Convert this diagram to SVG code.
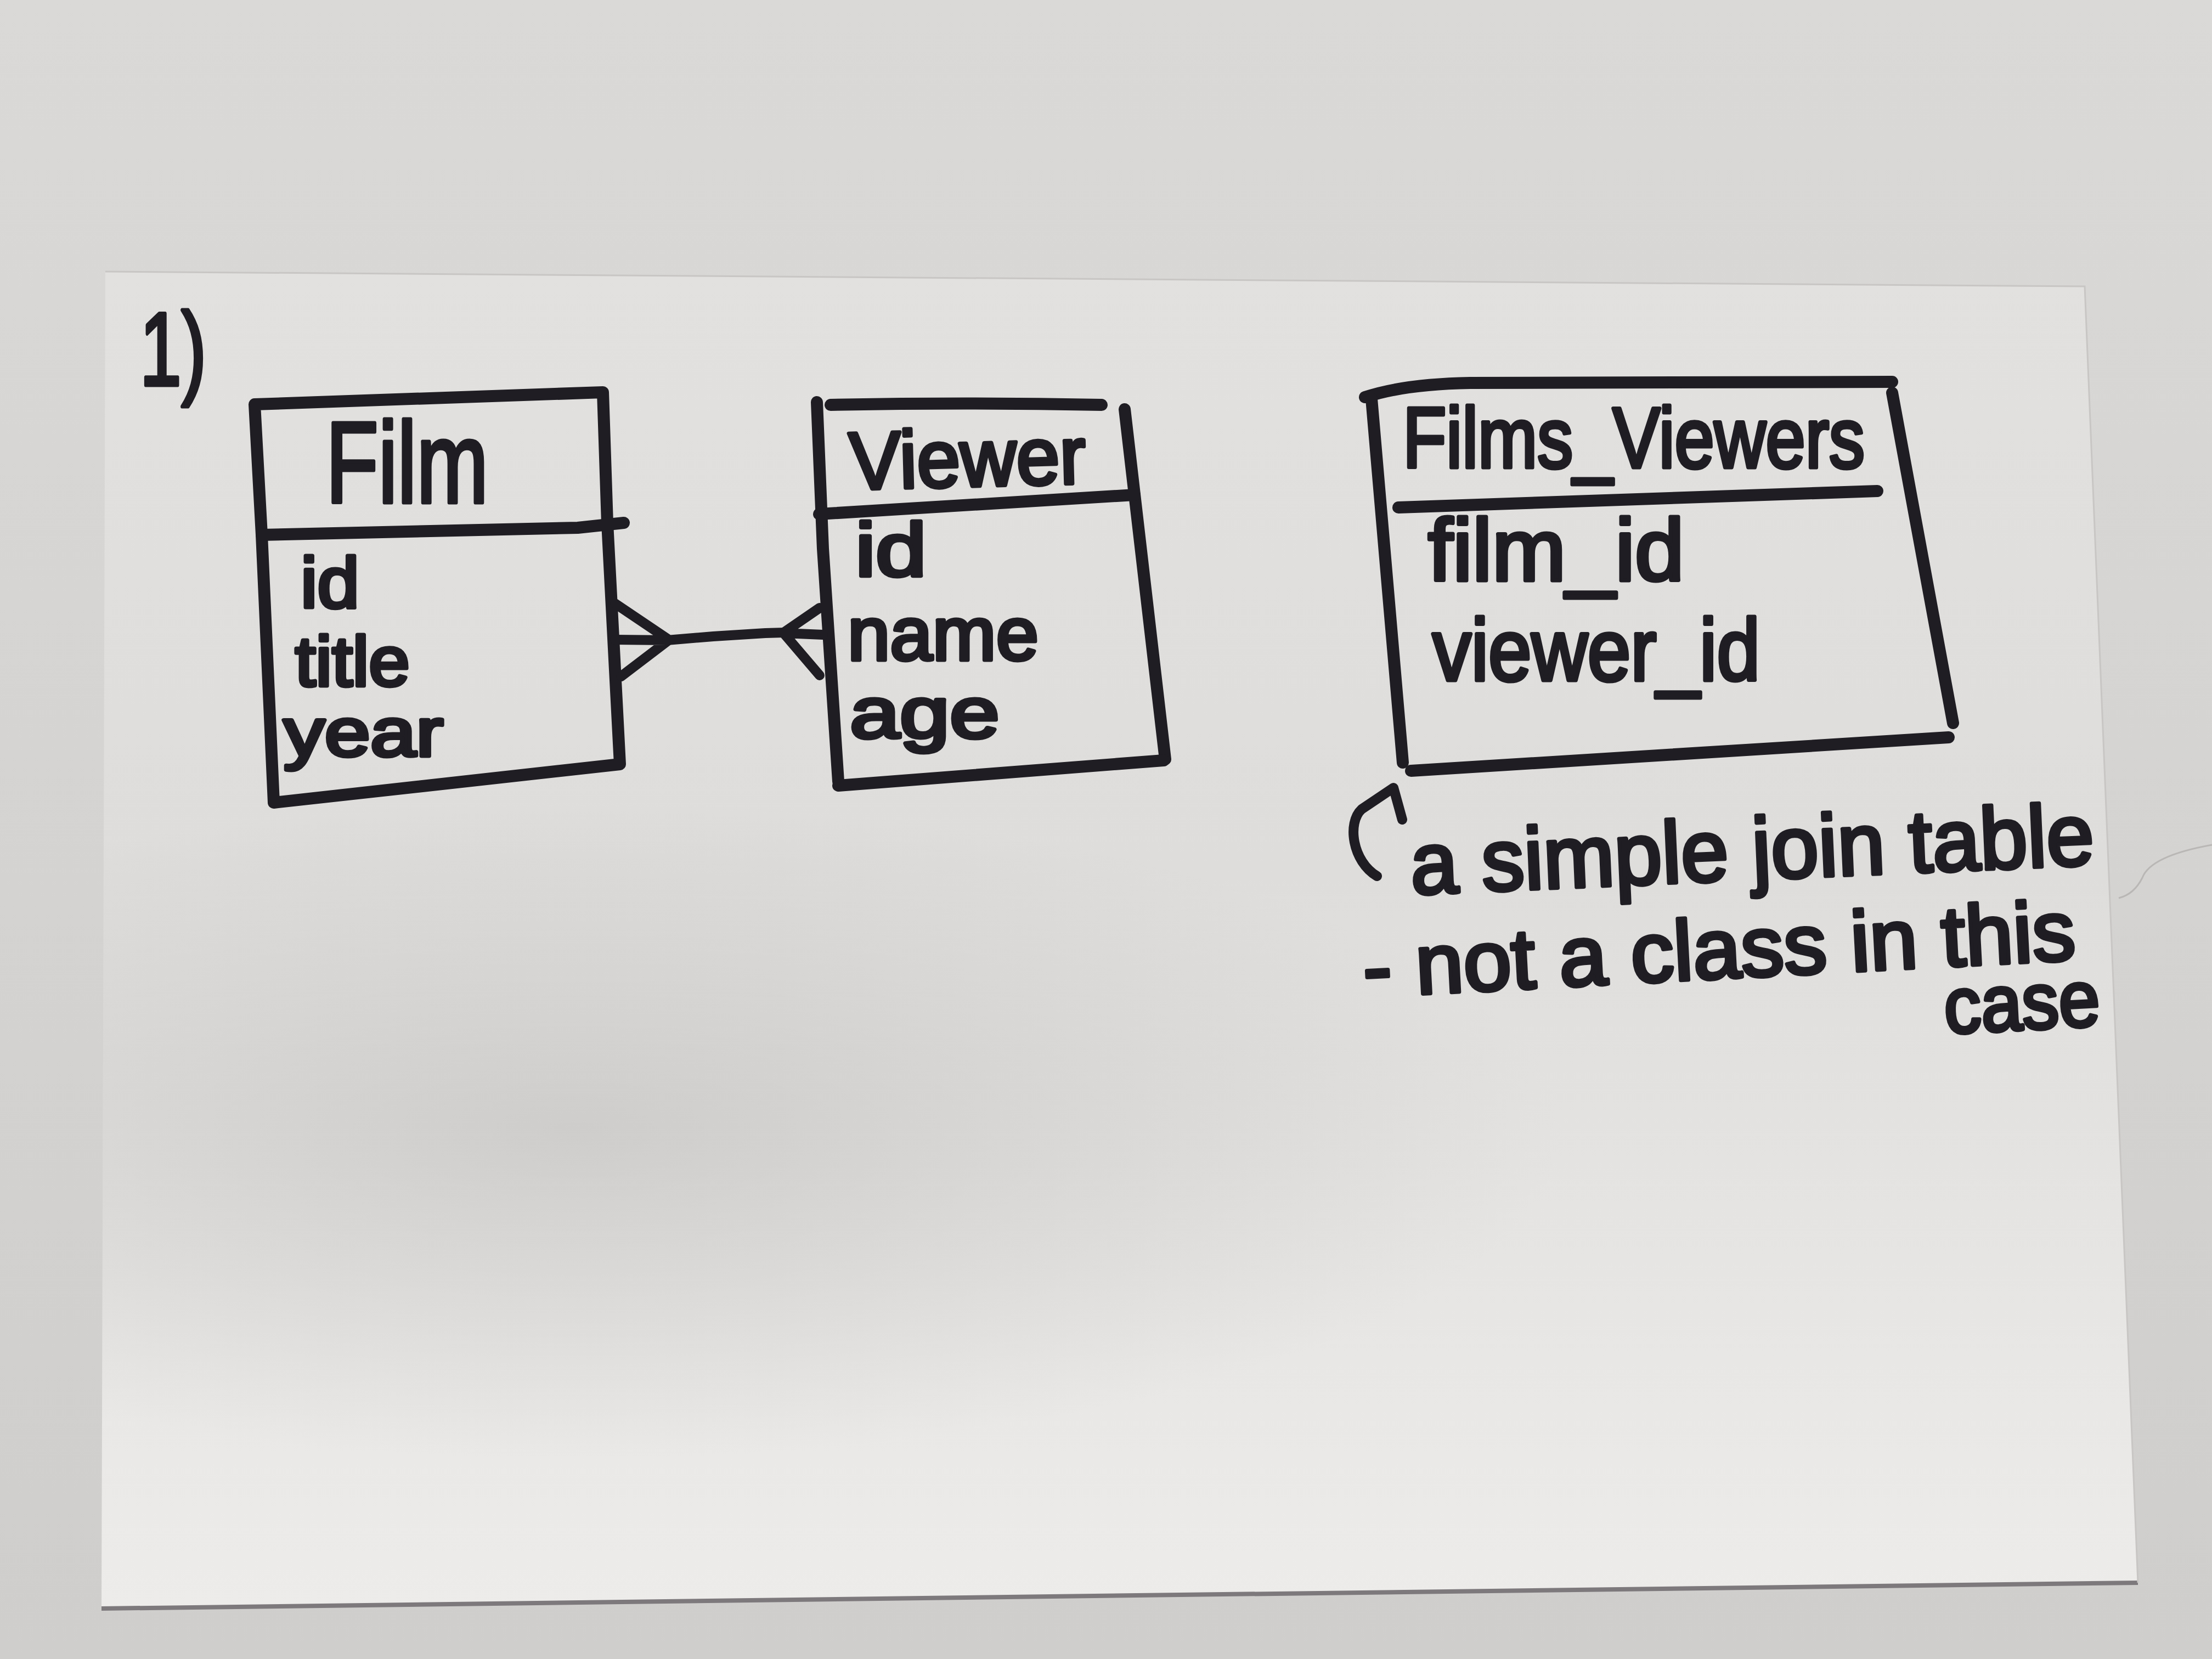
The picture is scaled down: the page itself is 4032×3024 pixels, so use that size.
<svg xmlns="http://www.w3.org/2000/svg" width="4032" height="3024" viewBox="0 0 4032 3024">
  <defs>
    <linearGradient id="bg" x1="0" y1="0" x2="0" y2="1">
      <stop offset="0" stop-color="#dad9d7"/>
      <stop offset="1" stop-color="#cfcecc"/>
    </linearGradient>
    <linearGradient id="card" x1="0" y1="0" x2="0" y2="1">
      <stop offset="0" stop-color="#e2e1df"/>
      <stop offset="0.45" stop-color="#dedddb"/>
      <stop offset="0.7" stop-color="#e5e4e2"/>
      <stop offset="1" stop-color="#edecea"/>
    </linearGradient>
    <radialGradient id="shade" cx="0.5" cy="0.5" r="0.5">
      <stop offset="0" stop-color="#bdbcba" stop-opacity="0.55"/>
      <stop offset="1" stop-color="#bdbcba" stop-opacity="0"/>
    </radialGradient>
    <clipPath id="cardClip">
      <path d="M192,495 L3800,522 L3897,2885 L185,2932 Z"/>
    </clipPath>
    <style>
      .ink { fill: none; stroke: #1f1d23; stroke-width: 22; stroke-linecap: round; stroke-linejoin: round; }
      .rel { fill: none; stroke: #1f1d23; stroke-width: 18; stroke-linecap: round; stroke-linejoin: round; }
      text { font-family: "Liberation Sans", Arial, sans-serif; fill: #1f1d23; stroke: #1f1d23; stroke-width: 7; stroke-linejoin: round; }
    </style>
  </defs>

  <!-- desk and card -->
  <rect width="4032" height="3024" fill="url(#bg)"/>
  <path d="M192,495 L3800,522 L3897,2885 L185,2932 Z" fill="url(#card)"/>
  <g clip-path="url(#cardClip)">
    <ellipse cx="1050" cy="2060" rx="1800" ry="600" fill="url(#shade)"/>
  </g>
  <path d="M185,2932 L3897,2885" fill="none" stroke="#7d797c" stroke-width="8"/>
  <path d="M192,495 L3800,522 L3897,2885" fill="none" stroke="#c8c6c4" stroke-width="3"/>
  <path d="M4032,1540 Q3920,1560 3905,1600 Q3890,1630 3862,1637" fill="none" stroke="#b9b7b5" stroke-width="3"/>

  <!-- section number -->
  <g id="label-1">
    <text x="255" y="702" font-size="190" textLength="121" lengthAdjust="spacingAndGlyphs">1)</text>
  </g>

  <!-- Film entity -->
  <g id="film">
    <path class="ink" d="M464,737 L1099,715 L1107,953 L1130,1393 L499,1463 L477,975 Z"/>
    <path class="ink" d="M477,975 L1053,962 L1137,953"/>
    <text x="594" y="916" font-size="210" textLength="296" lengthAdjust="spacingAndGlyphs">Film</text>
    <text x="548" y="1107" font-size="130" textLength="107" lengthAdjust="spacingAndGlyphs">id</text>
    <text x="538" y="1250" font-size="128" textLength="209" lengthAdjust="spacingAndGlyphs">title</text>
    <text x="517" y="1378" font-size="125" textLength="291" lengthAdjust="spacingAndGlyphs">year</text>
  </g>

  <!-- Viewer entity -->
  <g id="viewer">
    <path class="ink" d="M1489,733 L1500,1000 L1528,1424"/>
    <path class="ink" d="M1514,738 Q1760,733 2008,738"/>
    <path class="ink" d="M2050,746 L2124,1384"/>
    <path class="ink" d="M1493,937 L2068,902"/>
    <path class="ink" d="M1528,1432 L2121,1386"/>
    <text x="1549" y="892" font-size="148" textLength="431" lengthAdjust="spacingAndGlyphs" transform="rotate(-1.5 1549 892)">Viewer</text>
    <text x="1559" y="1050" font-size="138" textLength="130" lengthAdjust="spacingAndGlyphs">id</text>
    <text x="1545" y="1203" font-size="138" textLength="348" lengthAdjust="spacingAndGlyphs">name</text>
    <text x="1549" y="1345" font-size="132" textLength="273" lengthAdjust="spacingAndGlyphs">age</text>
  </g>

  <!-- join table -->
  <g id="films_viewers">
    <path class="ink" d="M2488,724 Q2560,700 2680,698 L3449,696"/>
    <path class="ink" d="M2500,727 L2557,1390"/>
    <path class="ink" d="M3449,716 L3560,1318"/>
    <path class="ink" d="M2549,925 L3422,895"/>
    <path class="ink" d="M2572,1405 L3552,1344"/>
    <text x="2557" y="852" font-size="156" textLength="842" lengthAdjust="spacingAndGlyphs">Films_Viewers</text>
    <text x="2603" y="1058" font-size="160" textLength="467" lengthAdjust="spacingAndGlyphs">film_id</text>
    <text x="2611" y="1240" font-size="160" textLength="597" lengthAdjust="spacingAndGlyphs">viewer_id</text>
  </g>

  <!-- note -->
  <g id="note">
    <text x="2573" y="1630" font-size="160" textLength="1247" lengthAdjust="spacingAndGlyphs" transform="rotate(-2.5 2573 1630)">a simple join table</text>
    <text x="2487" y="1817" font-size="155" textLength="1300" lengthAdjust="spacingAndGlyphs" transform="rotate(-3 2487 1817)">- not a class in this</text>
    <text x="3546" y="1884" font-size="145" textLength="284" lengthAdjust="spacingAndGlyphs" transform="rotate(-3 3546 1884)">case</text>
  </g>

  <!-- connectors -->
  <g id="connectors">
    <!-- many-to-many relation, crow's feet at both ends -->
    <path class="rel" d="M1121,1100 L1216,1164 M1132,1233 L1216,1169 M1121,1166 L1216,1167"/>
    <path class="rel" d="M1216,1167 L1300,1160 L1395,1154 L1430,1153"/>
    <path class="rel" d="M1494,1108 L1430,1152 M1430,1156 L1494,1231 M1430,1154 L1500,1157"/>
    <!-- note pointer -->
    <path class="rel" d="M2510,1597 C2465,1570 2455,1500 2482,1475 L2540,1436 L2556,1494"/>
  </g>
</svg>
